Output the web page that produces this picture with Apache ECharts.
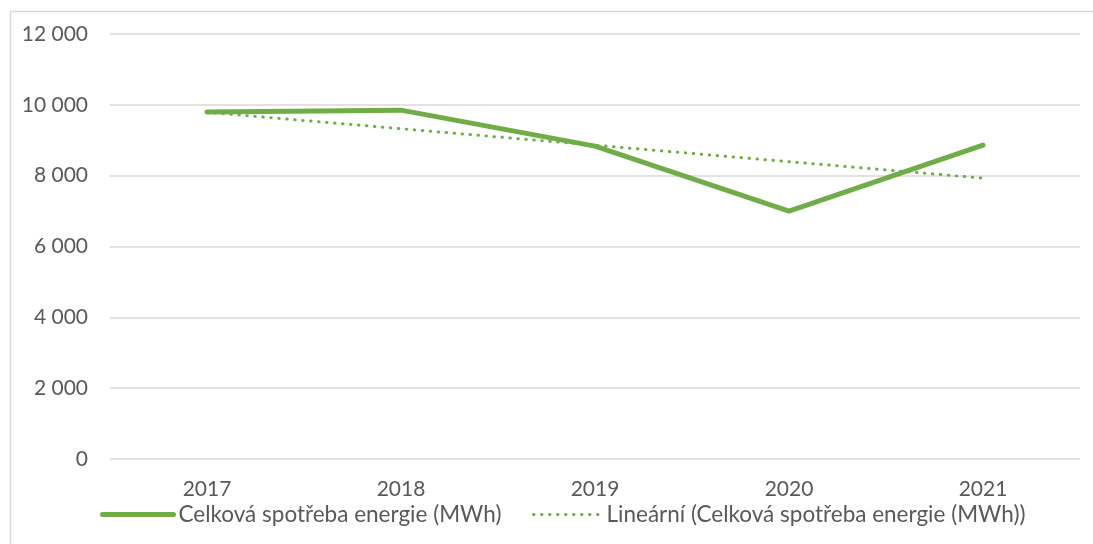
<!DOCTYPE html>
<html>
<head>
<meta charset="utf-8">
<script src="https://cdn.jsdelivr.net/npm/echarts@6/dist/echarts.min.js"></script>
<style>
  html, body { margin: 0; padding: 0; background: #fff; }
  #chart { width: 1093px; height: 544px; }
</style>
</head>
<body>
<div id="chart"></div>
<script>
// kategorie (roky)
const years = ['2017', '2018', '2019', '2020', '2021']
// celková spotřeba energie v MWh
const consumption = [9800, 9850, 8835, 7000, 8865]
// lineární trend
const trend = [9790, 9325, 8860, 8395, 7930]

const nameMain = 'Celková spotřeba energie (MWh)'
const nameTrend = 'Lineární (Celková spotřeba energie (MWh))'

const green = '#70AD47'
const textColor = '#595959'
const font = 'Lato, "Open Sans", sans-serif'
const dots = [0.5, 7.5]

const legendBase = {
  top: 503,
  padding: 0,
  itemHeight: 10,
  itemStyle: { opacity: 0 },
  textStyle: { color: textColor, fontSize: 22.5, fontFamily: font }
}

const chart = echarts.init(document.getElementById('chart'))

chart.setOption({
  animation: false,
  backgroundColor: '#fff',
  graphic: [{
    type: 'rect',
    shape: { x: 10.5, y: 11.5, width: 1200, height: 700 },
    style: { fill: 'none', stroke: '#d9d9d9', lineWidth: 1.5 },
    silent: true
  }],
  grid: { left: 110, right: 13, top: 34, bottom: 85 },
  legend: [
    Object.assign({}, legendBase, {
      left: 100,
      itemWidth: 71,
      data: [{ name: nameMain, lineStyle: { width: 5, color: green, cap: 'round' } }]
    }),
    Object.assign({}, legendBase, {
      left: 532,
      itemWidth: 68,
      data: [{ name: nameTrend, lineStyle: { width: 3, color: green, type: dots, cap: 'round' } }]
    })
  ],
  xAxis: {
    type: 'category',
    data: years,
    boundaryGap: true,
    axisLine: { show: false },
    axisTick: { show: false },
    axisLabel: { color: textColor, fontSize: 21, fontFamily: font, margin: 20 }
  },
  yAxis: {
    type: 'value',
    min: 0,
    max: 12000,
    interval: 2000,
    axisLine: { show: false },
    axisTick: { show: false },
    splitLine: { lineStyle: { color: '#d9d9d9', width: 1.5 } },
    axisLabel: {
      color: textColor,
      fontSize: 21,
      fontFamily: font,
      margin: 22,
      formatter: v => String(v).replace(/\B(?=(\d{3})+(?!\d))/g, ' ')
    }
  },
  series: [
    {
      name: nameMain,
      type: 'line',
      data: consumption,
      symbol: 'none',
      lineStyle: { color: green, width: 5, cap: 'round', join: 'round' },
      itemStyle: { color: green }
    },
    {
      name: nameTrend,
      type: 'line',
      data: trend,
      symbol: 'none',
      lineStyle: { color: green, width: 3, type: dots, cap: 'round' },
      itemStyle: { color: green }
    }
  ]
})
</script>
</body>
</html>
